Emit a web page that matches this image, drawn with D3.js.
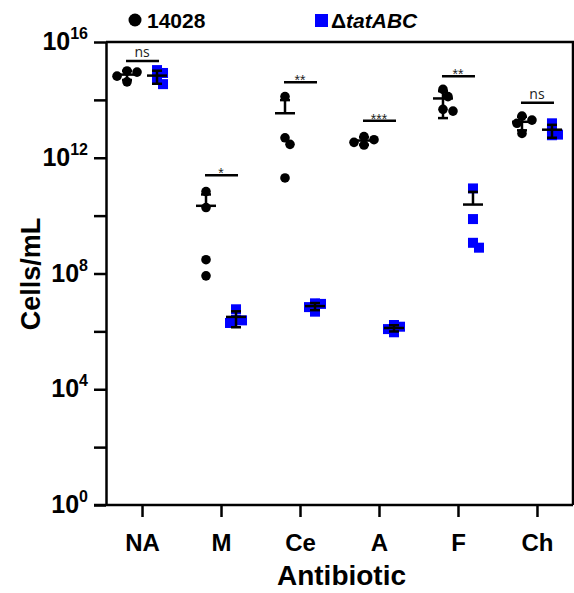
<!DOCTYPE html>
<html><head><meta charset="utf-8">
<script src="https://cdn.jsdelivr.net/npm/d3@7"></script>
<style>body{margin:0;background:#fff} svg{display:block}</style>
</head><body><svg id="c" width="574" height="593"></svg>
<script>
// ---------------- data (cells/mL) ----------------
const categories = ["NA", "M", "Ce", "A", "F", "Ch"];
const seriesNames = ["14028", "tatABC"];
const wt14028 = [
  [9.1e14, 1.0e15, 6.6e14, 4.2e14],   // NA
  [6.8e10, 1.9e10, 3.0e8, 8.3e7],     // M
  [1.3e14, 4.9e12, 2.9e12, 2.0e11],   // Ce
  [5.4e12, 4.2e12, 3.4e12, 2.75e12],  // A
  [2.3e14, 1.3e14, 4.7e13, 4.1e13],   // F
  [2.75e13, 2.0e13, 1.55e13, 6.9e12]  // Ch
];
const tatABC = [
  [8.5e14, 1.07e15, 3.5e14, 4.9e14],  // NA
  [5.8e6, 2.5e6, 2.4e6, 1.95e6],      // M
  [9.3e6, 8.9e6, 6.9e6, 4.8e6],       // Ce
  [1.66e6, 1.45e6, 1.2e6, 9.3e5],     // A
  [8.7e10, 7.6e9, 1.15e9, 7.8e8],     // F
  [1.55e13, 9.5e12, 6.0e12, 6.3e12]   // Ch
];
const significance = ["ns", "*", "**", "***", "**", "ns"];
const bracketLevels = [2.2e15, 2.5e11, 4.1e14, 1.9e13, 6.6e14, 7.9e13];
const yMajorExponents = [0, 4, 8, 12, 16];
const yMinorExponents = [2, 6, 10, 14];

// ---------------- layout ----------------
const svg = d3.select("#c");
const L = 106, R = 573, T = 42, B = 505;
const x = d3.scalePoint().domain(categories).range([L, R]).padding(0.456);
const y = d3.scaleLog().domain([1, 1e16]).range([B, T]);
const groupOffset = 15;
const FONT = "'Liberation Sans', Arial, sans-serif";

// frame (top + right)
svg.append("path")
  .attr("d", `M${L},${T}H${R}V${B}`)
  .attr("fill", "none").attr("stroke", "#000").attr("stroke-width", 2.5);

// y axis
const allTicks = yMajorExponents.concat(yMinorExponents).map(e => Math.pow(10, e));
const gy = svg.append("g").attr("transform", `translate(${L},0)`)
  .call(d3.axisLeft(y).tickValues(allTicks).tickSize(12).tickSizeOuter(0).tickFormat(""));
gy.selectAll("path,line").attr("stroke", "#000").attr("stroke-width", 2.5);
const yl = svg.append("g");
yMajorExponents.forEach(e => {
  const t = yl.append("text")
    .attr("x", L - 18).attr("y", y(Math.pow(10, e)) + 8)
    .attr("text-anchor", "end")
    .attr("font-family", FONT).attr("font-weight", "bold").attr("font-size", 25);
  t.append("tspan").text("10");
  t.append("tspan").attr("dy", -11).attr("font-size", 16).text(String(e));
});

// x axis
const gx = svg.append("g").attr("transform", `translate(0,${B})`)
  .call(d3.axisBottom(x).tickSize(12).tickSizeOuter(0));
gx.select(".domain").attr("d", `M${L - 12},0H${R}`);
gx.selectAll("path,line").attr("stroke", "#000").attr("stroke-width", 2.5);
gx.selectAll("text")
  .attr("font-family", FONT).attr("font-weight", "bold").attr("font-size", 24)
  .attr("fill", "#000").attr("dy", 0).attr("y", 46);

// axis titles
svg.append("text")
  .attr("transform", "translate(40,274) rotate(-90)")
  .attr("text-anchor", "middle")
  .attr("font-family", FONT).attr("font-weight", "bold").attr("font-size", 27)
  .text("Cells/mL");
svg.append("text")
  .attr("x", (L + R) / 2 + 2).attr("y", 585)
  .attr("text-anchor", "middle")
  .attr("font-family", FONT).attr("font-weight", "bold").attr("font-size", 28)
  .text("Antibiotic");

// legend
svg.append("circle").attr("cx", 135).attr("cy", 20).attr("r", 6.5).attr("fill", "#000");
svg.append("text").attr("x", 147).attr("y", 28)
  .attr("font-family", FONT).attr("font-weight", "bold").attr("font-size", 21)
  .text(seriesNames[0]);
svg.append("rect").attr("x", 315).attr("y", 14).attr("width", 13).attr("height", 13).attr("fill", "#0000ff");
const lg = svg.append("text").attr("x", 331).attr("y", 28)
  .attr("font-family", FONT).attr("font-weight", "bold").attr("font-size", 21);
lg.append("tspan").text("\u0394");
lg.append("tspan").attr("font-style", "italic").text(seriesNames[1]);

// ---------------- marks ----------------
function spread(values, cx, step, minD) {
  const pts = values.map(v => ({ v, y: y(v) })).sort((a, b) => a.y - b.y);
  const placed = [];
  pts.forEach(p => {
    let off = 0;
    for (let k = 0; k < 9; k++) {
      const o = k === 0 ? 0 : (k % 2 ? 1 : -1) * Math.ceil(k / 2) * step;
      const ok = placed.every(q => (q.x - (cx + o)) ** 2 + (q.y - p.y) ** 2 >= minD * minD);
      if (ok) { off = o; break; }
    }
    p.x = cx + off;
    placed.push(p);
  });
  return placed;
}
function stats(values) {
  const m = d3.mean(values);
  const sd = d3.deviation(values);
  return { m, hi: m + sd, lo: m - sd };
}

const pointsLayer = svg.append("g");
const barLayer = svg.append("g").attr("stroke", "#000").attr("stroke-width", 2.5).attr("fill", "none");

categories.forEach((c, i) => {
  const cxW = x(c) - groupOffset, cxM = x(c) + groupOffset;
  // wild type circles
  pointsLayer.selectAll(null).data(spread(wt14028[i], cxW, 5, 8)).enter().append("circle")
    .attr("cx", d => d.x).attr("cy", d => d.y).attr("r", 4.8).attr("fill", "#000");
  // mutant squares
  pointsLayer.selectAll(null).data(spread(tatABC[i], cxM, 6, 5.5)).enter().append("rect")
    .attr("x", d => d.x - 5).attr("y", d => d.y - 5).attr("width", 10).attr("height", 10)
    .attr("fill", "#0000ff");
  // mean ± SD
  [[wt14028[i], cxW], [tatABC[i], cxM]].forEach(([vals, cx]) => {
    const s = stats(vals);
    const ym = y(s.m), yh = y(s.hi);
    barLayer.append("line").attr("x1", cx - 10).attr("x2", cx + 10).attr("y1", ym).attr("y2", ym);
    barLayer.append("line").attr("x1", cx).attr("x2", cx).attr("y1", ym).attr("y2", yh);
    barLayer.append("line").attr("x1", cx - 5).attr("x2", cx + 5).attr("y1", yh).attr("y2", yh);
    if (s.lo > 0) {
      const yl2 = y(s.lo);
      barLayer.append("line").attr("x1", cx).attr("x2", cx).attr("y1", ym).attr("y2", yl2);
      barLayer.append("line").attr("x1", cx - 5).attr("x2", cx + 5).attr("y1", yl2).attr("y2", yl2);
    }
  });
  // significance bracket
  const by = y(bracketLevels[i]);
  barLayer.append("line").attr("x1", cxW - 1).attr("x2", cxM + 2).attr("y1", by).attr("y2", by);
  const isNs = significance[i] === "ns";
  svg.append("text")
    .attr("x", x(c)).attr("y", isNs ? by - 4 : by + 3)
    .attr("text-anchor", "middle")
    .attr("font-family", isNs ? "'Open Sans', sans-serif" : FONT)
    .attr("font-size", 14)
    .attr("fill", "#222")
    .text(significance[i]);
});
</script>
</body></html>
